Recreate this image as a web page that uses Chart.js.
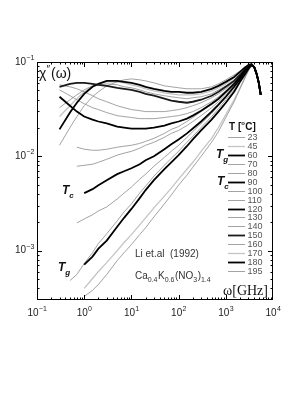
<!DOCTYPE html>
<html lang="en">
<head>
  <meta charset="UTF-8">
  <title>Susceptibility spectra CKN</title>
  <style>
    body { margin: 0; padding: 0; background: #fff; }
    #wrap { width: 305px; height: 395px; position: relative; }
  </style>
</head>
<body>
  <div id="wrap"><canvas id="graf"></canvas></div>
  <script src="https://cdn.jsdelivr.net/npm/chart.js"></script>
  <script>
    // frequency grid (GHz) shared by all the curves
    const omega = [0.3,0.5,0.7,1,1.5,2,3,5,7,10,15,20,30,50,70,100,150,200,300,500,700,1000,1500,2000,2500,3000,3500];
    // common high-frequency side of the microscopic peak
    const tailOmega = [4000,4500,5000,5500];
    const tailChi = [0.0886,0.0748,0.0601,0.0449];

    const temps = ['23','45','60','70','80','90','100','110','120','130','140','150','160','170','180','195'];

    const chi23  = [null,null,null,.000328,.000379,.000439,.000559,.000785,.000953,.00116,.00148,.00175,.00228,.00313,.00389,.00495,.00631,.00766,.0100,.0141,.0183,.0258,.0379,.0520,.0662,.0804,.0908];
    const chi45  = [null,null,null,.000398,.000507,.000601,.000748,.001,.00122,.00148,.00188,.00223,.00284,.00379,.00460,.00573,.00730,.00865,.0113,.0155,.0202,.0277,.0398,.0533,.0679,.0824,.0908];
    const chi60  = [null,null,null,.000712,.000865,.00105,.00128,.00179,.00223,.00277,.00361,.00439,.00559,.00730,.00865,.0103,.0128,.0151,.0188,.0245,.0298,.0370,.0483,.0616,.0730,.0844,.0930];
    const chi70  = [null,.000483,.000559,.000730,.000953,.00119,.00151,.00207,.00258,.00313,.00408,.00483,.00616,.00804,.00953,.0113,.0141,.0163,.0202,.0264,.0320,.0398,.0507,.0631,.0748,.0865,.0930];
    const chi80  = [null,null,.00197,.00217,.00240,.00264,.00291,.00353,.00408,.00472,.00573,.00647,.00785,.00976,.0113,.0131,.0159,.0183,.0223,.0284,.0344,.0418,.0533,.0647,.0766,.0865,.0930];
    const chi90  = [null,null,null,.00408,.00449,.00495,.00559,.00647,.00695,.00748,.00824,.00908,.0100,.0119,.0134,.0151,.0175,.0197,.0234,.0298,.0353,.0428,.0546,.0662,.0785,.0886,.0930];
    const chi100 = [null,null,.00785,.00804,.00824,.00865,.00930,.0103,.0108,.0113,.0122,.0131,.0141,.0159,.0175,.0188,.0212,.0234,.0270,.0328,.0379,.0449,.0559,.0679,.0785,.0886,.0930];
    const chi110 = [null,null,.0125,.0119,.0116,.0116,.0119,.0125,.0128,.0131,.0137,.0144,.0155,.0175,.0193,.0207,.0234,.0258,.0298,.0353,.0398,.0472,.0573,.0695,.0804,.0886,.0930];
    const chi120 = [.0428,.0344,.0298,.0264,.0245,.0234,.0223,.0207,.0202,.0197,.0197,.0197,.0202,.0212,.0223,.0234,.0251,.0270,.0305,.0361,.0408,.0483,.0587,.0695,.0804,.0886,.0930];
    const chi130 = [.0507,.0439,.0398,.0361,.0328,.0313,.0291,.0270,.0264,.0258,.0251,.0251,.0251,.0258,.0264,.0270,.0284,.0298,.0328,.0379,.0428,.0495,.0601,.0712,.0804,.0886,.0930];
    const chi140 = [.0573,.0546,.0520,.0483,.0439,.0408,.0379,.0344,.0328,.0313,.0305,.0298,.0298,.0298,.0305,.0313,.0328,.0344,.0370,.0418,.0460,.0520,.0616,.0712,.0824,.0886,.0930];
    const chi150 = [.0546,.0587,.0601,.0601,.0587,.0573,.0559,.0533,.0520,.0507,.0483,.0460,.0439,.0408,.0389,.0379,.0370,.0379,.0398,.0439,.0483,.0546,.0631,.0730,.0824,.0886,.0930];
    const chi160 = [.0328,.0398,.0449,.0507,.0559,.0573,.0587,.0573,.0546,.0533,.0507,.0483,.0460,.0439,.0428,.0418,.0408,.0418,.0428,.0460,.0507,.0559,.0647,.0748,.0844,.0908,.0953];
    const chi170 = [.0264,.0344,.0408,.0483,.0546,.0587,.0616,.0616,.0601,.0573,.0546,.0520,.0495,.0472,.0460,.0449,.0449,.0449,.0460,.0495,.0533,.0587,.0679,.0766,.0865,.0908,.0953];
    const chi180 = [.0193,.0291,.0370,.0460,.0546,.0587,.0631,.0631,.0616,.0601,.0573,.0546,.0520,.0495,.0483,.0483,.0472,.0472,.0483,.0520,.0559,.0616,.0695,.0785,.0865,.0930,.0953];
    const chi195 = [.0131,.0202,.0264,.0344,.0428,.0483,.0559,.0616,.0647,.0662,.0647,.0631,.0601,.0559,.0546,.0533,.0520,.0520,.0520,.0546,.0587,.0647,.0730,.0804,.0886,.0930,.0953];

    const series = [chi23,chi45,chi60,chi70,chi80,chi90,chi100,chi110,chi120,chi130,chi140,chi150,chi160,chi170,chi180,chi195];

    const xTicks = [0.1,1,10,100,1000,10000];
    const yTicks = [0.001,0.01,0.1];
    const yMin = 3.13e-4, yMax = 0.1;

    // line styles per temperature
    const BOLD = ['60','90','120','150','180'];
    const LIGHT = ['45','170'];
    function estilo(t) {
      if (BOLD.includes(t)) return {c: t === '150' ? '#1a1a1a' : '#000', w: 1.8, o: 0};
      if (LIGHT.includes(t)) return {c: '#c4c4c4', w: 1.3, o: 2};
      return {c: '#8c8c8c', w: 0.8, o: 1};
    }

    const datasets = temps.map((t, i) => {
      let pts = [];
      omega.forEach((w, k) => { if (series[i][k] != null) pts.push({x: w, y: series[i][k]}); });
      tailOmega.forEach((w, k) => pts.push({x: w, y: tailChi[k]}));
      let s = estilo(t);
      return {label: t, data: pts, borderColor: s.c, borderWidth: s.w, order: s.o,
              pointRadius: 0, tension: 0, fill: false};
    });

    const FONT = '"Liberation Sans", Arial, sans-serif';

    function pot(ctx, exp, x, y, align) {
      // draws 10^exp, x is anchor, y is vertical middle of "10"
      ctx.font = '10px ' + FONT;
      let w1 = ctx.measureText('10').width;
      ctx.font = '7px ' + FONT;
      let w2 = ctx.measureText(exp).width;
      let x0 = align === 'right' ? x - w1 - w2 : x - (w1 + w2) / 2;
      ctx.textAlign = 'left'; ctx.textBaseline = 'middle';
      ctx.font = '10px ' + FONT;
      ctx.fillText('10', x0, y);
      ctx.font = '7px ' + FONT;
      ctx.fillText(exp, x0 + w1 + 0.3, y - 4);
    }

    function tLabel(ctx, sub, x, y) {
      ctx.textAlign = 'left'; ctx.textBaseline = 'alphabetic';
      ctx.font = 'italic bold 12px ' + FONT;
      ctx.fillText('T', x, y);
      let w = ctx.measureText('T').width;
      ctx.font = 'italic bold 8px ' + FONT;
      ctx.fillText(sub, x + w, y + 4);
    }

    const molduraPlugin = {
      id: 'moldura',
      afterDraw(chart) {
        const ctx = chart.ctx, a = chart.chartArea;
        const sx = chart.scales.x, sy = chart.scales.y;
        ctx.save();
        ctx.strokeStyle = '#000'; ctx.lineWidth = 1;
        ctx.strokeRect(a.left + 0.5, a.top + 0.5, a.right - a.left - 1, a.bottom - a.top - 1);
        ctx.beginPath();
        // x ticks, inward, bottom and top
        for (let d = 0.1; d < 10000; d *= 10) {
          for (let m = 1; m < 10; m++) {
            let px = Math.round(sx.getPixelForValue(d * m)) + 0.5;
            let len = m === 1 ? 5 : 2.5;
            ctx.moveTo(px, a.bottom); ctx.lineTo(px, a.bottom - len);
            ctx.moveTo(px, a.top); ctx.lineTo(px, a.top + len);
          }
        }
        // y ticks, inward, left and right
        for (let d = 0.0001; d < 0.1; d *= 10) {
          for (let m = 1; m < 10; m++) {
            let v = d * m;
            if (v < yMin || v > yMax) continue;
            let py = Math.round(sy.getPixelForValue(v)) + 0.5;
            let len = m === 1 ? 5 : 2.5;
            ctx.moveTo(a.left, py); ctx.lineTo(a.left + len, py);
            ctx.moveTo(a.right, py); ctx.lineTo(a.right - len, py);
          }
        }
        ctx.stroke();

        ctx.fillStyle = '#222';
        xTicks.forEach(v => pot(ctx, String(Math.round(Math.log10(v))).replace('-', '\u2212'), sx.getPixelForValue(v), a.bottom + 13, 'center'));
        yTicks.forEach(v => pot(ctx, String(Math.round(Math.log10(v))).replace('-', '\u2212'), a.left - 3, sy.getPixelForValue(v), 'right'));

        // axis title chi''(omega)
        ctx.fillStyle = '#111'; ctx.textAlign = 'left'; ctx.textBaseline = 'alphabetic';
        ctx.font = '14px ' + FONT;
        ctx.fillText('\u03c7', 39, 78);
        ctx.font = '10px ' + FONT;
        ctx.fillText('\u2033', 46.5, 73);
        ctx.font = '14px ' + FONT;
        ctx.fillText('(\u03c9)', 51, 78);

        // omega[GHz]
        ctx.font = '14px "Liberation Serif", "Times New Roman", serif';
        ctx.textAlign = 'right';
        ctx.fillText('\u03c9[GHz]', 268, 295);

        // legend title T [oC]
        ctx.textAlign = 'left';
        ctx.font = 'bold 10px ' + FONT;
        ctx.fillText('T [', 229, 130);
        let wT = ctx.measureText('T [').width;
        ctx.font = 'bold 6px ' + FONT;
        ctx.fillText('o', 229 + wT, 125);
        ctx.font = 'bold 10px ' + FONT;
        ctx.fillText('C]', 229 + wT + 4, 130);

        // legend rows
        temps.forEach((t, i) => {
          let s = estilo(t);
          let y = Math.round(137.3 + 8.91 * i) + 0.5;
          ctx.strokeStyle = s.c; ctx.lineWidth = s.w;
          ctx.beginPath(); ctx.moveTo(228, y); ctx.lineTo(245, y); ctx.stroke();
          ctx.fillStyle = '#555'; ctx.font = '9px ' + FONT; ctx.textBaseline = 'middle';
          ctx.fillText(t, 247.5, y);
        });

        ctx.fillStyle = '#111';
        tLabel(ctx, 'g', 216, 158);
        tLabel(ctx, 'c', 217, 185);
        tLabel(ctx, 'c', 62, 194);
        tLabel(ctx, 'g', 58, 271);

        // reference and composition
        ctx.fillStyle = '#333'; ctx.textBaseline = 'alphabetic'; ctx.textAlign = 'left';
        ctx.font = '10px ' + FONT;
        ctx.fillText('Li et.al  (1992)', 135, 257);
        let parts = [['Ca', 0], ['0.4', 1], ['K', 0], ['0.6', 1], ['(NO', 0], ['3', 1], [')', 0], ['1.4', 1]];
        let cx = 135;
        parts.forEach(p => {
          ctx.font = (p[1] ? '7px ' : '10px ') + FONT;
          ctx.fillText(p[0], cx, p[1] ? 282 : 279);
          cx += ctx.measureText(p[0]).width + (p[1] ? 0.5 : 0);
        });
        ctx.restore();
      }
    };

    new Chart(document.getElementById('graf').getContext('2d'), {
      type: 'line',
      data: {datasets: datasets},
      options: {
        responsive: true, maintainAspectRatio: false, animation: false,
        layout: {padding: {left: 37, right: 32, top: 62, bottom: 95}},
        plugins: {legend: {display: false}, tooltip: {enabled: false}},
        scales: {
          x: {type: 'logarithmic', min: 0.1, max: 10000, display: false},
          y: {type: 'logarithmic', min: yMin, max: yMax, display: false}
        }
      },
      plugins: [molduraPlugin]
    });
  </script>
</body>
</html>
